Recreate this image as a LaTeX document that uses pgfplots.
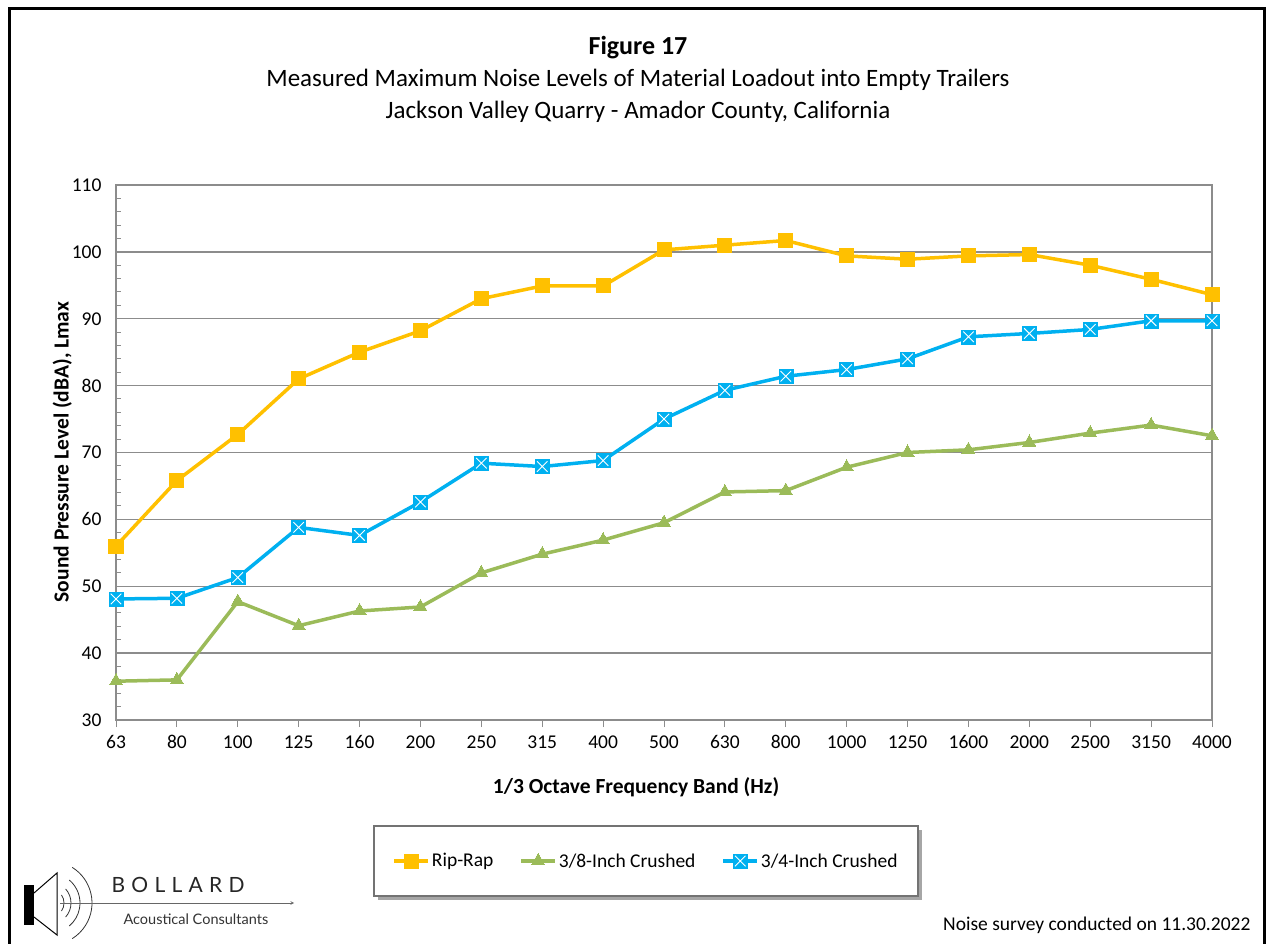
\documentclass[border=0pt]{standalone}
\usepackage{fontspec}
\setmainfont{Carlito}
\newfontfamily\logofont[LetterSpace=30]{Lato}
\newfontfamily\logosmall{Lato}
\usepackage{pgfplots}
\pgfplotsset{compat=1.18}
\definecolor{ripc}{HTML}{FFC000}
\definecolor{grnc}{HTML}{9BBB59}
\definecolor{bluc}{HTML}{00B0F0}
\definecolor{axc}{HTML}{8C8C8C}
\pgfdeclareplotmark{sqx}{%
  \pgfpathrectangle{\pgfqpoint{-\pgfplotmarksize}{-\pgfplotmarksize}}{\pgfqpoint{2\pgfplotmarksize}{2\pgfplotmarksize}}%
  \pgfusepathqfillstroke
  \pgfscope
  \pgfsetlinewidth{0.9pt}\pgfsetstrokecolor{white}%
  \pgfpathmoveto{\pgfqpoint{-0.75\pgfplotmarksize}{-0.75\pgfplotmarksize}}\pgfpathlineto{\pgfqpoint{0.75\pgfplotmarksize}{0.75\pgfplotmarksize}}%
  \pgfpathmoveto{\pgfqpoint{-0.75\pgfplotmarksize}{0.75\pgfplotmarksize}}\pgfpathlineto{\pgfqpoint{0.75\pgfplotmarksize}{-0.75\pgfplotmarksize}}%
  \pgfusepathqstroke
  \endpgfscope}
\begin{document}
\begin{tikzpicture}[x=1pt,y=1pt]
\path[use as bounding box] (0,0) rectangle (1267,943);
% frame
\draw[line width=3pt,black] (9,-5) -- (9,934) -- (1264,934) -- (1264,-5);
% titles
\node[font=\fontsize{26}{30}\selectfont\bfseries] at (638,895) {Figure 17};
\node[font=\fontsize{25}{29}\selectfont] at (638,863) {Measured Maximum Noise Levels of Material Loadout into Empty Trailers};
\node[font=\fontsize{25}{29}\selectfont] at (638,831) {Jackson Valley Quarry - Amador County, California};
% legend frame with shadow (behind the legend)
\fill[black!35] (378,43) rectangle (922,113);
\draw[black!55, line width=1.2pt, fill=white] (374,47) rectangle (918,117);
\begin{axis}[
  scale only axis, width=1096pt, height=535pt,
  at={(116pt,223pt)}, anchor=south west,
  xmin=0, xmax=18, ymin=30, ymax=110,
  xtick={0,...,18},
  xticklabels={63,80,100,125,160,200,250,315,400,500,630,800,1000,1250,1600,2000,2500,3150,4000},
  ytick={30,40,...,110},
  minor y tick num=4,
  ymajorgrids,
  grid style={axc, line width=1.3pt},
  axis line style={axc, line width=2pt},
  tick style={axc, line width=1pt},
  major tick length=7pt, minor tick length=5pt,
  xtick align=outside, ytick align=inside,
  xtick pos=bottom, ytick pos=left,
  tick label style={font=\fontsize{19.5}{22}\selectfont, text=black},
  /pgf/number format/assume math mode=true,
  xticklabel style={yshift=-5pt},
  yticklabel style={xshift=-11pt},
  xlabel={\bfseries 1/3 Octave Frequency Band (Hz)},
  ylabel={\bfseries Sound Pressure Level (dBA), Lmax},
  label style={font=\fontsize{21.5}{24}\selectfont},
  xlabel style={at={(axis description cs:0.4745,-0.125)}, anchor=center},
  ylabel style={at={(axis description cs:-0.049,0.501)}, anchor=center},
  legend columns=3,
  legend style={draw=none, fill=none, at={(axis description cs:0.4836,-0.2636)}, anchor=center,
    font=\fontsize{19.5}{22}\selectfont,
    /tikz/every even column/.append style={column sep=24pt}},
  legend image code/.code={\draw[#1] (0pt,0pt) -- (34pt,0pt); \path[#1, mark repeat=1] plot coordinates {(17pt,0pt)};},
]
\addplot[ripc, line width=3.5pt, mark=square*, mark size=7pt, mark options={solid, fill=ripc, draw=ripc, line width=0pt}] coordinates {
(0,56.0) (1,65.8) (2,72.7) (3,81.0) (4,85.0) (5,88.2) (6,93.0) (7,94.9) (8,94.9) (9,100.3)
(10,101.0) (11,101.7) (12,99.4) (13,98.9) (14,99.4) (15,99.6) (16,98.0) (17,95.9) (18,93.6)};
\addlegendentry{Rip-Rap}
\addplot[grnc, line width=3.5pt, mark=triangle*, mark size=7.5pt, mark options={solid, fill=grnc, draw=grnc, line width=0pt}] coordinates {
(0,35.8) (1,36.0) (2,47.7) (3,44.1) (4,46.3) (5,46.9) (6,52.0) (7,54.8) (8,56.9) (9,59.5)
(10,64.1) (11,64.3) (12,67.8) (13,70.0) (14,70.4) (15,71.5) (16,72.9) (17,74.1) (18,72.5)};
\addlegendentry{3/8-Inch Crushed}
\addplot[bluc, line width=3.5pt, mark=sqx, mark size=7pt, mark options={solid, fill=bluc, draw=bluc, line width=0.5pt}] coordinates {
(0,48.1) (1,48.2) (2,51.3) (3,58.8) (4,57.6) (5,62.6) (6,68.4) (7,67.9) (8,68.8) (9,75.0)
(10,79.3) (11,81.4) (12,82.4) (13,84.0) (14,87.3) (15,87.8) (16,88.4) (17,89.7) (18,89.7)};
\addlegendentry{3/4-Inch Crushed}
\end{axis}
% logo
\fill[black] (24,18) rectangle (34,58);
\draw[black, line width=1pt] (34,50) -- (57,70) -- (57,8) -- (34,26);
\draw[black!80, line width=0.8pt] (50,40) ++(35:14) arc (35:-35:14);
\draw[black!80, line width=0.8pt] (50,40) ++(42:21) arc (42:-42:21);
\draw[black!80, line width=0.8pt] (50,40) ++(50:30) arc (50:-50:30);
\draw[black!80, line width=0.8pt] (50,40) ++(58:42) arc (58:-58:42);
\draw[black!60, line width=0.6pt, -stealth] (60,40) -- (294,40);
\node[font=\fontsize{21}{24}\selectfont\logofont\addfontfeature{LetterSpace=30}, text=black!85, anchor=west] at (108,58) {BOLLARD};
\node[font=\fontsize{14.5}{17}\selectfont\logosmall, text=black!80, anchor=west] at (120,24) {Acoustical Consultants};
\node[font=\fontsize{19.5}{22}\selectfont, anchor=east] at (1254,18) {Noise survey conducted on 11.30.2022};
\end{tikzpicture}
\end{document}
